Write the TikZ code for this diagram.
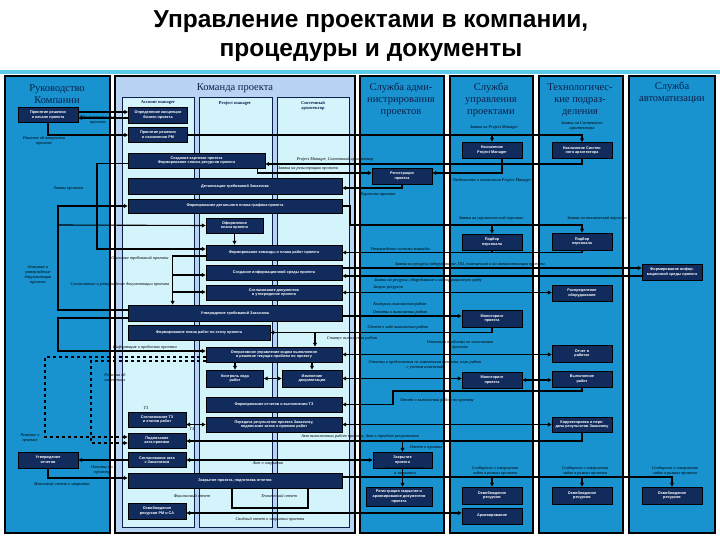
\documentclass[tikz,border=0pt]{standalone}
\usepackage{fontspec}
\setmainfont{Liberation Serif}
\setsansfont{Liberation Sans}
\usetikzlibrary{arrows.meta}
\definecolor{lane}{HTML}{1893D0}
\definecolor{team}{HTML}{B9D3F3}
\definecolor{sub}{HTML}{D4F4FC}
\definecolor{navy}{HTML}{102B5C}
\definecolor{hdr}{HTML}{0B1F4A}
\definecolor{band}{HTML}{5CCBEA}
\begin{document}
\begin{tikzpicture}[x=1pt, y=-1pt,
  col/.style={draw=black, line width=1.6pt, fill=lane},
  subl/.style={draw=hdr, line width=0.6pt, fill=sub},
  hd/.style={text=hdr, font=\fontsize{10.5}{12}\selectfont, align=center, inner sep=0pt},
  lh/.style={text=hdr, font=\bfseries\fontsize{4.5}{5.4}\selectfont, align=center, inner sep=0pt},
  bx/.style={draw=black, fill=navy, text=white, line width=0.8pt, align=center,
    font=\sffamily\bfseries\fontsize{3.8}{4.6}\selectfont, inner sep=0.5pt,
    minimum width=60pt, minimum height=15pt},
  lbl/.style={font=\fontsize{4.3}{5}\selectfont\itshape, inner sep=0.3pt, align=center},
  wire/.style={line width=1.1pt},
  link/.style={wire, -{Triangle[length=3.8pt,width=3.8pt]}},
  dlink/.style={wire, {Triangle[length=3.8pt,width=3.8pt]}-{Triangle[length=3.8pt,width=3.8pt]}},
  dlk/.style={link, dashed}]
  \useasboundingbox (0,0) rectangle (720,540);
  \fill[white] (0,0) rectangle (720,540);
  \fill[band] (0,70) rectangle (720,74);
  \node[font=\sffamily\bfseries\fontsize{24.5}{29}\selectfont, align=center] (title) at (371,36)
    {Управление проектами в компании,\\процедуры и документы};
  % дорожки
  \draw[col] (5,76) rectangle (110,533);
  \draw[col, fill=team] (115,76) rectangle (355,533);
  \draw[col] (360,76) rectangle (444,533);
  \draw[col] (450,76) rectangle (533,533);
  \draw[col] (539,76) rectangle (623,533);
  \draw[col] (629,76) rectangle (715,533);
  \draw[subl] (122,97) rectangle (194,527);
  \draw[subl] (199,97) rectangle (272,527);
  \draw[subl] (277,97) rectangle (349,527);
  \node[hd] (hlead) at (57,94) {Руководство\\Компании};
  \node[hd] (hteam) at (235,88) {Команда проекта};
  \node[hd] (hadm) at (401,100) {Служба адми-\\нистрирования\\проектов};
  \node[hd] (hpmo) at (491,100) {Служба\\управления\\проектами};
  \node[hd] (htech) at (580,100) {Технологичес-\\кие подраз-\\деления};
  \node[hd] (hauto) at (672,93) {Служба\\автоматизации};
  \node[lh] (ham) at (158,103) {Account manager};
  \node[lh] (hpm) at (235,103) {Project manager};
  \node[lh] (hsa) at (313,106) {Системный\\архитектор};
  % блоки: руководство и команда
  \node[bx] (l1) at (48,115) {Принятие решения\\о начале проекта};
  \node[bx, minimum width=59pt, minimum height=16pt] (am1) at (158,115) {Определение концепции\\бизнес-проекта};
  \node[bx, minimum width=59pt] (am2) at (158,135) {Принятие решения\\о назначении PM};
  \node[bx, minimum width=137pt] (w1) at (196.5,160.5) {Создание карточки проекта\\Формирование списка ресурсов проекта};
  \node[bx, minimum width=214pt, minimum height=16pt] (w2) at (235,186) {Детализация требований Заказчика};
  \node[bx, minimum width=214pt, minimum height=14pt] (w3) at (235,206) {Формирование детального плана-графика проекта};
  \node[bx, minimum width=57pt] (pm1) at (234.5,225.5) {Оформление\\плана проекта};
  \node[bx, minimum width=136pt] (w4) at (274,252.5) {Формирование команды и плана работ проекта};
  \node[bx, minimum width=136pt] (w5) at (274,272.5) {Создание информационной среды проекта};
  \node[bx, minimum width=136pt] (w6) at (274,292.5) {Согласование документов\\и утверждение проекта};
  \node[bx, minimum width=214pt, minimum height=16pt] (w7) at (235,313) {Утверждение требований Заказчика};
  \node[bx, minimum width=142pt] (w8) at (199,332.5) {Формирование плана работ по этапу проекта};
  \node[bx, minimum width=136pt] (w9) at (274,354.5) {Оперативное управление ходом выполнения\\и решение текущих проблем по проекту};
  \node[bx, minimum width=57pt, minimum height=17pt] (pm2) at (235,378.5) {Контроль хода\\работ};
  \node[bx, minimum height=17pt] (sa1) at (312,378.5) {Изменение\\документации};
  \node[bx, minimum width=136pt] (w10) at (274,404.5) {Формирование отчетов о выполнении ТЗ};
  \node[bx, minimum width=136pt] (w11) at (274,424.5) {Передача результатов проекта Заказчику,\\подписание актов о приемке работ};
  \node[bx, minimum width=58pt] (am3) at (157,419.5) {Согласование ТЗ\\и этапов работ};
  \node[bx, minimum width=58pt] (am4) at (157,440.5) {Подписание\\акта приемки};
  \node[bx, minimum width=58pt] (am5) at (157,460) {Согласование акта\\с Заказчиком};
  \node[bx, minimum width=214pt] (w12) at (235,480.5) {Закрытие проекта, подготовка отчетов};
  \node[bx, minimum width=58pt, minimum height=16pt] (am6) at (157,511) {Освобождение\\ресурсов PM и СА};
  \node[bx, minimum height=16pt] (l2) at (48,460) {Утверждение\\отчетов};
  % блоки: службы
  \node[bx, minimum height=16pt] (c3a) at (402,176) {Регистрация\\проекта};
  \node[bx, minimum width=59pt, minimum height=16pt] (c3c) at (402.5,460) {Закрытие\\проекта};
  \node[bx, minimum width=66pt, minimum height=19pt] (c3b) at (399,496.5) {Регистрация закрытия и\\архивирование документов\\проекта};
  \node[bx, minimum height=16pt] (c4a) at (492,150) {Назначение\\Project Manager};
  \node[bx, minimum height=16pt] (c4b) at (492,242) {Подбор\\персонала};
  \node[bx, minimum height=17pt] (c4c) at (492,318.5) {Мониторинг\\проекта};
  \node[bx, minimum height=16pt] (c4d) at (492,380) {Мониторинг\\проекта};
  \node[bx, minimum height=17pt] (c4e) at (492,495.5) {Освобождение\\ресурсов};
  \node[bx, minimum height=16pt] (c4f) at (492,516) {Архивирование};
  \node[bx, minimum height=16pt] (c5a) at (582,150.5) {Назначение Систем-\\ного архитектора};
  \node[bx, minimum height=17pt] (c5b) at (582,241.5) {Подбор\\персонала};
  \node[bx, minimum height=16pt] (c5c) at (582,293) {Распределение\\оборудования};
  \node[bx, minimum height=17pt] (c5d) at (582,353.5) {Отчет о\\работах};
  \node[bx, minimum height=16pt] (c5e) at (582,379) {Выполнение\\работ};
  \node[bx] (c5f) at (582,424.5) {Корректировка и пере-\\дача результатов Заказчику};
  \node[bx, minimum height=17pt] (c5g) at (582,495.5) {Освобождение\\ресурсов};
  \node[bx, minimum height=16pt] (c6a) at (672,272) {Формирование инфор-\\мационной среды проекта};
  \node[bx, minimum height=17pt] (c6b) at (672,495.5) {Освобождение\\ресурсов};
  % подписи
  \node[lbl] (t1) at (98,120) {Обоснование и цели\\проекта};
  \node[lbl] (t2) at (44,141) {Решение об открытии\\проекта};
  \node[lbl] (t3) at (494,128) {Заявка на Project Manager};
  \node[lbl] (t4) at (582,126) {Заявка на Системного\\архитектора};
  \node[lbl] (t5) at (335,159) {Project Manager, Системный архитектор};
  \node[lbl] (t6) at (308,169) {Заявка на регистрацию проекта};
  \node[lbl] (t7) at (492,180) {Уведомление о назначении Project Manager};
  \node[lbl] (t8) at (68,189) {Этапы проекта};
  \node[lbl] (t9) at (378,195) {Карточка проекта};
  \node[lbl] (t10) at (491,218) {Заявка на управленческий персонал};
  \node[lbl] (t11) at (597,218) {Заявка на технический персонал};
  \node[lbl] (t12) at (400,249) {Утверждение состава команды};
  \node[lbl] (t13) at (140,258) {Описание требований проекта};
  \node[lbl] (t14) at (38,275) {Описание и\\утверждение\\документации\\проекта};
  \node[lbl] (t15) at (470,264) {Заявка на ресурсы (оборудование, ПО, помещения) и на автоматизацию проекта};
  \node[lbl] (t16) at (428,280) {Заявка на ресурсы, оборудование и информационную среду};
  \node[lbl] (t17) at (120,284) {Согласование и утверждение документации проекта};
  \node[lbl] (t18) at (388,288) {Запрос ресурсов};
  \node[lbl] (t19) at (400,304) {Контроль выполнения работ};
  \node[lbl] (t20) at (400,312) {Отчеты о выполнении работ};
  \node[lbl] (t21) at (398,327) {Отчет о ходе выполнения работ};
  \node[lbl] (t22) at (352,338) {Статус выполнения работ};
  \node[lbl] (t23) at (145,347) {Информация о проблемах проекта};
  \node[lbl] (t24) at (460,345) {Отчеты и проблемы по исполнению\\проекта};
  \node[lbl] (t25) at (115,377) {Решения об\\изменениях};
  \node[lbl] (t26) at (425,365) {Отчеты и предложения по изменениям проекта, план работ\\с учетом изменений};
  \node[lbl] (t27) at (437,400) {Отчет о выполнении работ по проекту};
  \node[lbl] (t28) at (146,408) {ТЗ};
  \node[lbl] (t29) at (192,429) {ТЗ};
  \node[lbl] (t30) at (360,436) {Акт выполненных работ проекта, Акт о передаче результатов};
  \node[lbl] (t31) at (30,438) {Решение о\\приемке};
  \node[lbl] (t32) at (426,448) {Отчет о приемке};
  \node[lbl] (t33) at (268,464) {Акт о закрытии};
  \node[lbl] (t34) at (102,470) {Отчеты по\\проекту};
  \node[lbl] (t35) at (405,471) {Отчет об исполнении\\и закрытии};
  \node[lbl] (t36) at (495,471) {Сообщение о завершении\\задач в рамках проекта};
  \node[lbl] (t37) at (585,471) {Сообщение о завершении\\задач в рамках проекта};
  \node[lbl] (t38) at (675,471) {Сообщение о завершении\\задач в рамках проекта};
  \node[lbl] (t39) at (62,484) {Итоговый отчет о закрытии};
  \node[lbl] (t40) at (192,496) {Финансовый отчет};
  \node[lbl] (t41) at (279,496) {Технический отчет};
  \node[lbl] (t42) at (270,519) {Сводный отчет о закрытии проекта};
  % узлы ломаных
  \coordinate (j1) at (173,275);
  \coordinate (j2) at (173,292);
  \coordinate (j3) at (58,225);
  \coordinate (fin) at (232,508);
  \coordinate (tech) at (308,508);
  % связи: начало проекта
  \draw[link] (l1.east |- 0,112) -- (am1.west |- 0,112);
  \draw[link] (am1.west |- 0,118) -- (l1.east |- 0,118);
  \draw[link] (l1.south) |- (am2.west);
  \draw[link] (am2.east) -| (c5a.north);
  \draw[link] (c4a.north |- am2.east) -- (c4a.north);
  \draw[link] (c5a.south) |- (w1.east |- 0,164);
  \draw[link] ([xshift=10pt]c4a.south) |- ([yshift=3pt]c3a.east);
  \draw[link] ([xshift=-8pt]w1.south east) |- ([yshift=3pt]c3a.west);
  \draw[link] (c3a.south) |- ([yshift=-2pt]w2.east);
  \draw[link] (w7.west |- 0,310) -| (58,206) -- (w3.west);
  \draw[link] (j3) -- (pm1.west);
  \draw[link] (pm1.south) -- (pm1.south |- w4.north);
  \draw[link] ([yshift=-3pt]w1.west) -| (97,249) -- (w4.west |- 0,249);
  \draw[link] (w4.west |- 0,256) -| ([xshift=45pt]w7.north west);
  \draw[link] (j1) -- (w5.west |- j1);
  \draw[link] (j2) -- (w6.west |- j2);
  % связи: ресурсы
  \draw[link] (w3.east) -| (350,225) -| (c5b.north);
  \draw[link] (c4b.north |- 0,225) -- (c4b.north);
  \draw[link] (c5b.south) |- (w4.east);
  \draw[wire] (c4b.south) -- (c4b.south |- w4.east);
  \draw[link] (w5.east |- 0,268) -- (c6a.west |- 0,268);
  \draw[link] (c6a.west |- 0,276) -- (w5.east |- 0,276);
  \draw[dlink] (w6.east) -- (c5c.west |- w6.east);
  % связи: исполнение
  \draw[link] (w7.east |- 0,316) -- (c4c.west |- 0,316);
  \draw[link] (c4c.south) |- (w8.east);
  \draw[link] ([xshift=41pt]w9.north |- w8.east) -- ([xshift=41pt]w9.north);
  \draw[link] (w7.west |- 0,318) -| (58,351) -- (w9.west |- 0,351);
  \draw[dlink] (w9.east) -- (c5d.west |- w9.east);
  \draw[link] (w9.south -| pm2.north) -- (pm2.north);
  \draw[link] (w9.south -| sa1.north) -- (sa1.north);
  \draw[dlink] (pm2.east) -- (sa1.west);
  \draw[dlink] (sa1.east) -- (c4d.west |- sa1.east);
  \draw[dlink] (c4d.east) -- (c5e.west |- c4d.east);
  \draw[dlk] (w9.west |- 0,357) -| (45,437) -- (am4.west |- 0,437);
  \draw[dlk] (w9.west |- 0,361) -| (91,443) -- (am4.west |- 0,443);
  % связи: сдача и закрытие
  \draw[link] (c5e.south) |- (393,391) |- (w10.east);
  \draw[dlink] (w11.east) -- (c5f.west);
  \draw[dlink] (am3.east |- w11.west) -- (w11.west);
  \draw[link] (c5f.south) |- (am4.east |- 0,441);
  \draw[link] (c3c.north |- 0,441) -- (c3c.north);
  \draw[dlink] (am5.east) -- (c3c.west |- am5.east);
  \draw[link] (am5.west) -- (l2.east |- am5.west);
  \draw[link] (l2.south) |- (w12.west |- 0,478);
  \draw[link] (w12.east |- 0,477) -| (c6b.north);
  \draw[link] (c3c.south) -- (c3c.south |- c3b.north);
  \draw[link] (c4e.north |- 0,477) -- (c4e.north);
  \draw[link] (c5g.north |- 0,477) -- (c5g.north);
  \draw[dlink] (am6.east |- 0,513) -- (c4f.west |- 0,513);
  \draw[wire] (w12.south -| fin) -- (fin) -- (tech) -- (w12.south -| tech);
\end{tikzpicture}
\end{document}
